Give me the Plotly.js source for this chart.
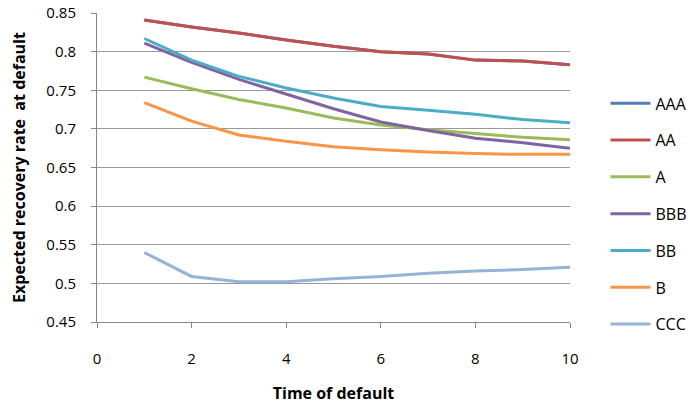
<!DOCTYPE html>
<html><head><meta charset="utf-8">
<script src="https://cdn.plot.ly/plotly-3.0.1.min.js"></script>
<style>body{margin:0;background:#fff}#c{width:697px;height:404px}</style>
</head><body><div id="c"></div>
<script>
const times = [1,2,3,4,5,6,7,8,9,10];
const seriesNames = ["AAA","AA","A","BBB","BB","B","CCC"];
const AAA = [0.841,0.832,0.824,0.815,0.807,0.800,0.797,0.789,0.788,0.783];
const AA  = [0.841,0.832,0.824,0.815,0.807,0.800,0.797,0.789,0.788,0.783];
const A_  = [0.767,0.752,0.738,0.727,0.714,0.705,0.699,0.694,0.689,0.686];
const BBB = [0.811,0.786,0.764,0.745,0.726,0.709,0.698,0.688,0.682,0.675];
const BB  = [0.817,0.789,0.768,0.753,0.740,0.729,0.724,0.719,0.712,0.708];
const B_  = [0.734,0.710,0.692,0.684,0.677,0.673,0.670,0.668,0.667,0.667];
const CCC = [0.540,0.509,0.502,0.502,0.506,0.509,0.513,0.516,0.518,0.521];
const colors = ["#4F81BD","#C0504D","#9BBB59","#8064A2","#4BACC6","#F79646","#95B3D7"];
const values = [AAA,AA,A_,BBB,BB,B_,CCC];

const traces = seriesNames.map((n,i)=>({
  x: times, y: values[i], name: n, type:'scatter', mode:'lines',
  legendgroup: 'g'+i,
  line:{color:colors[i], width:3}
}));

const layout = {
  width:697, height:404,
  margin:{l:97, r:127, t:13, b:82, autoexpand:false},
  paper_bgcolor:'#fff', plot_bgcolor:'#fff',
  font:{family:'"Open Sans", sans-serif', size:13, color:'#000'},
  showlegend:true,
  legend:{x:1.075, xanchor:'left', y:0.35, yanchor:'middle', tracegroupgap:13,
          font:{size:16}, itemwidth:40},
  xaxis:{range:[0,10], tickvals:[0,2,4,6,8,10], ticks:'outside', ticklen:5,
         tickcolor:'#868686', showline:true, linecolor:'#868686', linewidth:1,
         showgrid:false, zeroline:false, ticklabelstandoff:18,
         tickfont:{size:15},
         title:{text:'<b>Time of default</b>', font:{size:16}, standoff:22}},
  yaxis:{range:[0.45,0.85], tickvals:[0.45,0.5,0.55,0.6,0.65,0.7,0.75,0.8,0.85],
         ticktext:['0.45','0.5','0.55','0.6','0.65','0.7','0.75','0.8','0.85'],
         ticks:'outside', ticklen:5, tickcolor:'#868686', showline:true,
         linecolor:'#868686', linewidth:1, gridcolor:'#999999', zeroline:false,
         tickfont:{size:15}, ticklabelstandoff:12,
         title:{text:'<b>Expected recovery rate  at default</b>', font:{size:16}, standoff:16}}
};
Plotly.newPlot('c', traces, layout, {displayModeBar:false, staticPlot:true});
</script></body></html>
